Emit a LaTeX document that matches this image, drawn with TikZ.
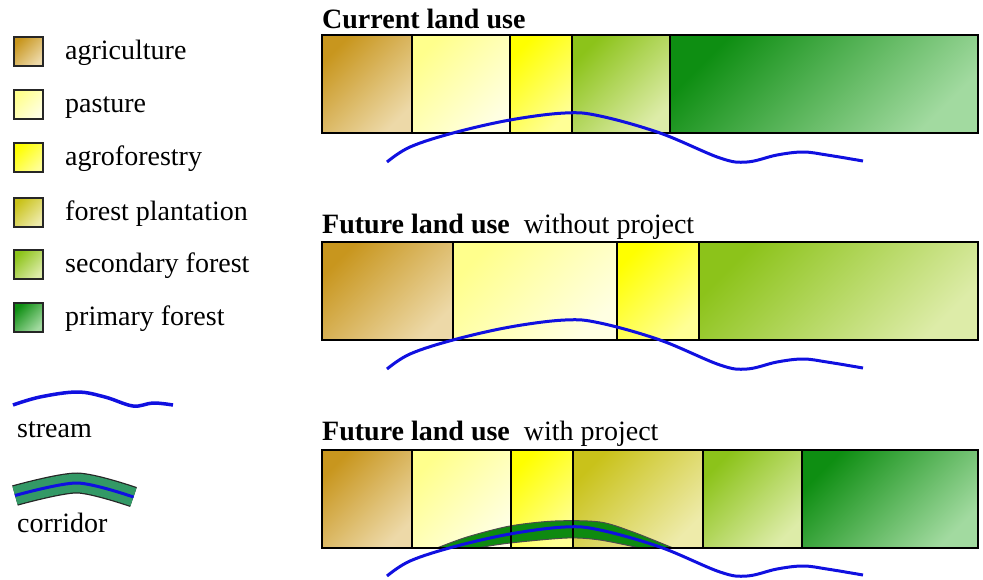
\documentclass[tikz,border=0pt]{standalone}
\usepackage{fontspec}
\setmainfont{Liberation Serif}

\definecolor{agriA}{HTML}{C8961E}
\definecolor{agriB}{HTML}{EDD9A8}
\definecolor{pastA}{HTML}{FFFF8C}
\definecolor{pastB}{HTML}{FFFFE2}
\definecolor{agroA}{HTML}{FFFF00}
\definecolor{agroB}{HTML}{FFFF96}
\definecolor{plantA}{HTML}{C9C21A}
\definecolor{plantB}{HTML}{EEEBAA}
\definecolor{secA}{HTML}{8CC31A}
\definecolor{secB}{HTML}{DDECA8}
\definecolor{primA}{HTML}{0E8E12}
\definecolor{primB}{HTML}{A2DAA0}
\definecolor{corrgreen}{HTML}{0E8A10}
\definecolor{keygreen}{HTML}{339966}
\definecolor{streamblue}{HTML}{1010E0}

\tikzset{
  agri/.style={top color=agriA, bottom color=agriB, shading angle=45},
  pasture/.style={top color=pastA, bottom color=pastB, shading angle=45},
  agrofor/.style={top color=agroA, bottom color=agroB, shading angle=45},
  plantation/.style={top color=plantA, bottom color=plantB, shading angle=45},
  secondary/.style={top color=secA, bottom color=secB, shading angle=45},
  primary/.style={top color=primA, bottom color=primB, shading angle=45},
  seg/.style={draw=black, line width=1.5pt},
  legtext/.style={anchor=base west, inner sep=0pt, font=\fontsize{28}{32}\selectfont},
  stream/.style={draw=streamblue, line width=3pt, line join=round},
  streampic/.pic={
    \draw[stream] plot[smooth, tension=0.6] coordinates {(387,162) (410,147) (453,133) (510,120) (565,113)
      (600,116) (660,133) (720,158) (747,162) (777,155) (803,152) (827,155) (863,161)};
  }
}

\begin{document}
\begin{tikzpicture}[x=1pt, y=-1pt]
  \useasboundingbox (0,0) rectangle (983,579);

  % legend
  \begin{scope}[every node/.style={rectangle, draw=black!85, line width=2pt, minimum size=29pt, inner sep=0pt}]
    \node[agri]       (1) at (28.5,51)  {};
    \node[pasture]    (2) at (28.5,104) {};
    \node[agrofor]    (3) at (28.5,157.5) {};
    \node[plantation] (4) at (28.5,212) {};
    \node[secondary]  (5) at (28.5,264) {};
    \node[primary]    (6) at (28.5,317) {};
  \end{scope}

  \begin{scope}[every node/.style={legtext}]
    \node (l1) at (65,59)    {agriculture};
    \node (l2) at (65,112)   {pasture};
    \node (l3) at (65,165.5) {agroforestry};
    \node (l4) at (65,220)   {forest plantation};
    \node (l5) at (65,272)   {secondary forest};
    \node (l6) at (65,325)   {primary forest};
    \node (l7) at (17,437)   {stream};
    \node (l8) at (17,532)   {corridor};
  \end{scope}

  \draw[stream, line width=3.5pt] plot[smooth, tension=0.6] coordinates {(13,405) (40,397) (77,392) (105,397) (133,406) (153,403) (173,405)};

  \draw[black!85, line width=21pt] plot[smooth] coordinates {(15,495.5) (77,483) (133.5,497)};
  \draw[keygreen, line width=18.5pt] plot[smooth] coordinates {(15,495.5) (77,483) (133.5,497)};
  \draw[stream] plot[smooth] coordinates {(15,495.5) (77,483) (133.5,497)};

  % titles
  \begin{scope}[every node/.style={legtext}]
    \node (t1) at (322,28)  {\textbf{Current land use}};
    \node (t2) at (322,233) {\textbf{Future land use}\hspace{14pt}without project};
    \node (t3) at (322,440) {\textbf{Future land use}\hspace{14pt}with project};
  \end{scope}

  % current land use
  \draw[seg, agri]       (322,35) rectangle (412,133);
  \draw[seg, pasture]    (412,35) rectangle (510,133);
  \draw[seg, agrofor]    (510,35) rectangle (572,133);
  \draw[seg, secondary]  (572,35) rectangle (670,133);
  \draw[seg, primary]    (670,35) rectangle (978,133);
  \pic at (0,0) {streampic};

  % future land use without project
  \draw[seg, agri]       (322,242) rectangle (453,340);
  \draw[seg, pasture]    (453,242) rectangle (617,340);
  \draw[seg, agrofor]    (617,242) rectangle (699,340);
  \draw[seg, secondary]  (699,242) rectangle (978,340);
  \pic at (0,207) {streampic};

  % future land use with project
  \shade[agri]       (322,450) rectangle (412,548);
  \shade[pasture]    (412,450) rectangle (511,548);
  \shade[agrofor]    (511,450) rectangle (573,548);
  \shade[plantation] (573,450) rectangle (703,548);
  \shade[secondary]  (703,450) rectangle (802,548);
  \shade[primary]    (802,450) rectangle (978,548);
  \filldraw[fill=corrgreen, draw=black!70, line width=1pt]
    plot[smooth] coordinates {(437,548) (467,537) (510,526) (555,521) (600,522) (633,532) (673,548)}
    -- plot[smooth] coordinates {(640,548) (600,540) (567,538) (510,543) (477,548)} -- cycle;
  \foreach \x in {412,511,573,703,802}
    \draw[seg] (\x,450) -- (\x,548);
  \draw[seg] (322,450) rectangle (978,548);
  \pic at (0,414) {streampic};

\end{tikzpicture}
\end{document}
